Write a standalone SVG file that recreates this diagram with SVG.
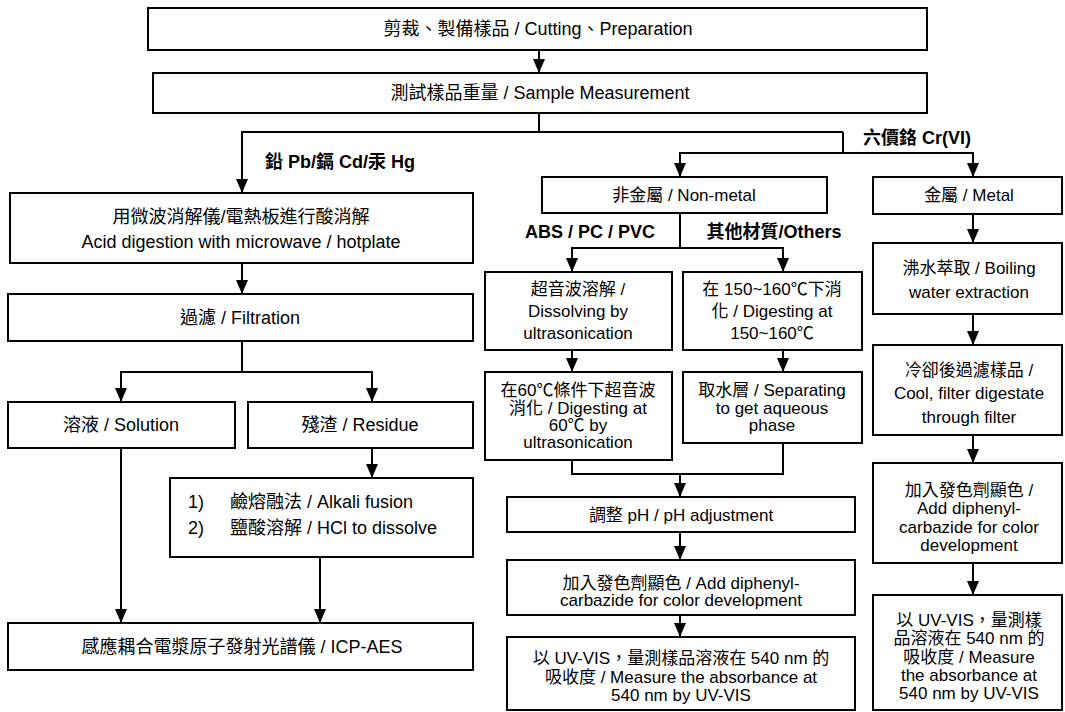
<svg xmlns="http://www.w3.org/2000/svg" width="1065" height="712" viewBox="0 0 1065 712">
<style>
.box{fill:#fff;stroke:#000;stroke-width:2}
.t{font-family:"Liberation Sans","Noto Sans CJK TC",sans-serif;font-size:17px;fill:#000;text-anchor:middle;dominant-baseline:central}
.tl{font-family:"Liberation Sans","Noto Sans CJK TC",sans-serif;font-size:17px;fill:#000;dominant-baseline:central}
.big{font-size:18px}
.b{font-family:"Liberation Sans","Noto Sans CJK TC",sans-serif;font-size:18px;font-weight:bold;fill:#000;dominant-baseline:central}
.c{fill:none;stroke:#000;stroke-width:2}
.a{fill:none;stroke:#000;stroke-width:2;marker-end:url(#ah)}
</style>
<defs>
<marker id="ah" markerUnits="userSpaceOnUse" markerWidth="14" markerHeight="12" refX="14" refY="6" orient="auto" viewBox="0 0 14 12">
<path d="M0,0 L14,6 L0,12 Z" fill="#000"/>
</marker>
</defs>
<rect width="1065" height="712" fill="#fff"/>

<g id="connectors">
<line class="a" x1="539" y1="50" x2="539" y2="73"/>
<polyline class="c" points="539,113 539,132"/>
<polyline class="a" points="843,132 242,132 242,193"/>
<polyline class="c" points="843,132 843,153"/>
<polyline class="a" points="843,153 680,153 680,177"/>
<polyline class="a" points="843,153 973,153 973,177"/>
<line class="a" x1="242" y1="263" x2="242" y2="294"/>
<line class="c" x1="242" y1="341" x2="242" y2="372"/>
<polyline class="a" points="242,372 121,372 121,402"/>
<polyline class="a" points="242,372 372,372 372,402"/>
<line class="a" x1="372" y1="448" x2="372" y2="478"/>
<line class="a" x1="121" y1="448" x2="121" y2="623"/>
<line class="a" x1="320" y1="557" x2="320" y2="623"/>
<line class="c" x1="680" y1="213" x2="680" y2="248"/>
<polyline class="a" points="680,248 572,248 572,272"/>
<polyline class="a" points="680,248 783,248 783,272"/>
<line class="a" x1="572" y1="350" x2="572" y2="372"/>
<line class="a" x1="783" y1="350" x2="783" y2="372"/>
<polyline class="c" points="572,460 572,474 783,474 783,443"/>
<line class="a" x1="680" y1="474" x2="680" y2="497"/>
<line class="a" x1="680" y1="532" x2="680" y2="560"/>
<line class="a" x1="680" y1="615" x2="680" y2="637"/>
<line class="a" x1="973" y1="214" x2="973" y2="243"/>
<line class="a" x1="973" y1="314" x2="973" y2="345"/>
<line class="a" x1="973" y1="435" x2="973" y2="463"/>
<line class="a" x1="973" y1="563" x2="973" y2="595"/>
</g>

<g id="labels">
<text class="b" x="265" y="162">鉛 Pb/鎘 Cd/汞 Hg</text>
<text class="b" x="863" y="138">六價鉻 Cr(VI)</text>
<text class="b" x="590" y="232" text-anchor="middle">ABS / PC / PVC</text>
<text class="b" x="774" y="232" text-anchor="middle">其他材質/Others</text>
</g>

<g id="n1"><rect class="box" x="148" y="8" width="779" height="42"/>
<text class="t big" x="538" y="29">剪裁、製備樣品 / Cutting、Preparation</text></g>
<g id="n2"><rect class="box" x="153" y="73" width="774" height="40"/>
<text class="t big" x="540" y="93">測試樣品重量 / Sample Measurement</text></g>

<g id="n3"><rect class="box" x="10" y="193" width="463" height="70"/>
<text class="t big" x="241" y="217">用微波消解儀/電熱板進行酸消解</text>
<text class="t big" x="241" y="242">Acid digestion with microwave / hotplate</text></g>
<g id="n4"><rect class="box" x="8" y="294" width="465" height="47"/>
<text class="t big" x="240" y="318">過濾 / Filtration</text></g>
<g id="n5"><rect class="box" x="8" y="402" width="227" height="46"/>
<text class="t big" x="121" y="425">溶液 / Solution</text></g>
<g id="n6"><rect class="box" x="248" y="402" width="225" height="46"/>
<text class="t big" x="360" y="425">殘渣 / Residue</text></g>
<g id="n7"><rect class="box" x="170" y="478" width="303" height="79"/>
<text class="tl big" x="188" y="502">1)</text>
<text class="tl big" x="230" y="502">鹼熔融法 / Alkali fusion</text>
<text class="tl big" x="188" y="528">2)</text>
<text class="tl big" x="230" y="528">鹽酸溶解 / HCl to dissolve</text></g>
<g id="n8"><rect class="box" x="8" y="623" width="465" height="47"/>
<text class="t big" x="242" y="647">感應耦合電漿原子發射光譜儀 / ICP-AES</text></g>

<g id="n9"><rect class="box" x="542" y="177" width="285" height="36"/>
<text class="t" x="684" y="195">非金屬 / Non-metal</text></g>
<g id="n10"><rect class="box" x="485" y="272" width="187" height="78"/>
<text class="t" x="578" y="289">超音波溶解 /</text>
<text class="t" x="578" y="311">Dissolving by</text>
<text class="t" x="578" y="333">ultrasonication</text></g>
<g id="n11"><rect class="box" x="683" y="272" width="179" height="78"/>
<text class="t" x="772" y="289">在 150~160℃下消</text>
<text class="t" x="772" y="311">化 / Digesting at</text>
<text class="t" x="772" y="333">150~160℃</text></g>
<g id="n12"><rect class="box" x="485" y="372" width="187" height="88"/>
<text class="t" x="578" y="390">在60℃條件下超音波</text>
<text class="t" x="578" y="408">消化 / Digesting at</text>
<text class="t" x="578" y="425">60℃ by</text>
<text class="t" x="578" y="442">ultrasonication</text></g>
<g id="n13"><rect class="box" x="683" y="372" width="179" height="71"/>
<text class="t" x="772" y="390">取水層 / Separating</text>
<text class="t" x="772" y="408">to get aqueous</text>
<text class="t" x="772" y="425">phase</text></g>
<g id="n14"><rect class="box" x="507" y="497" width="348" height="35"/>
<text class="t" x="681" y="515">調整 pH / pH adjustment</text></g>
<g id="n15"><rect class="box" x="507" y="560" width="348" height="55"/>
<text class="t" x="681" y="583">加入發色劑顯色 / Add diphenyl-</text>
<text class="t" x="681" y="600">carbazide for color development</text></g>
<g id="n16"><rect class="box" x="507" y="637" width="348" height="73"/>
<text class="t" x="681" y="658">以 UV-VIS，量測樣品溶液在 540 nm 的</text>
<text class="t" x="681" y="677">吸收度 / Measure the absorbance at</text>
<text class="t" x="681" y="695">540 nm by UV-VIS</text></g>

<g id="n17"><rect class="box" x="873" y="177" width="189" height="37"/>
<text class="t" x="969" y="195">金屬 / Metal</text></g>
<g id="n18"><rect class="box" x="873" y="243" width="189" height="71"/>
<text class="t" x="969" y="268">沸水萃取 / Boiling</text>
<text class="t" x="969" y="292">water extraction</text></g>
<g id="n19"><rect class="box" x="873" y="345" width="189" height="90"/>
<text class="t" x="969" y="370">冷卻後過濾樣品 /</text>
<text class="t" x="969" y="393">Cool, filter digestate</text>
<text class="t" x="969" y="417">through filter</text></g>
<g id="n20"><rect class="box" x="873" y="463" width="189" height="100"/>
<text class="t" x="969" y="490">加入發色劑顯色 /</text>
<text class="t" x="969" y="508">Add diphenyl-</text>
<text class="t" x="969" y="527">carbazide for color</text>
<text class="t" x="969" y="545">development</text></g>
<g id="n21"><rect class="box" x="873" y="595" width="189" height="115"/>
<text class="t" x="969" y="620">以 UV-VIS，量測樣</text>
<text class="t" x="969" y="638">品溶液在 540 nm 的</text>
<text class="t" x="969" y="657">吸收度 / Measure</text>
<text class="t" x="969" y="675">the absorbance at</text>
<text class="t" x="969" y="693">540 nm by UV-VIS</text></g>
</svg>
